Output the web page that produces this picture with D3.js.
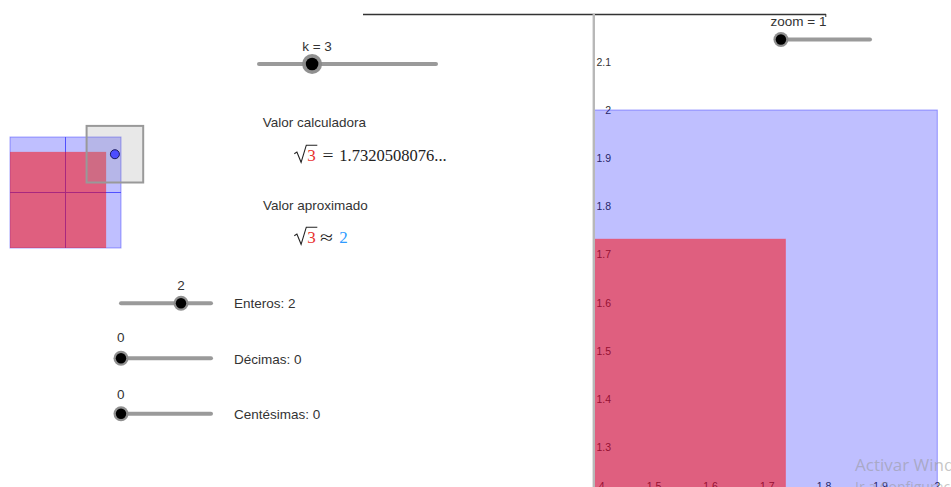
<!DOCTYPE html>
<html>
<head>
<meta charset="utf-8">
<script src="https://cdn.jsdelivr.net/npm/d3@7"></script>
<style>
  html, body { margin: 0; padding: 0; background: #fff; overflow: hidden; }
  svg { display: block; }
  .ui { font-family: "Liberation Sans", Arial, sans-serif; font-size: 13.5px; fill: #333; }
  .math { font-family: "Liberation Serif", "Times New Roman", serif; font-size: 17px; fill: #222; }
  .ax { font-family: "Liberation Sans", Arial, sans-serif; font-size: 10.5px; fill: #333; }
</style>
</head>
<body>
<svg id="chart" width="951" height="487"></svg>
<script>
// ---------------- data ----------------
const xTicks = [1.4, 1.5, 1.6, 1.7, 1.8, 1.9, 2.0];
const yTicks = [1.3, 1.4, 1.5, 1.6, 1.7, 1.8, 1.9, 2.0, 2.1];
const kValue = 3;
const sqrtValue = 1.7320508076;            // calculator value of sqrt(3)
const sqrtText = "1.7320508076...";
const sliderNames  = ["k", "zoom", "Enteros", "Décimas", "Centésimas"];
const sliderValues = [3, 1, 2, 0, 0];
const sliderMins   = [0, 0.5, 0, 0, 0];
const sliderMaxs   = [10, 10, 3, 9, 9];
const approxValue = sliderValues[2] + sliderValues[3] / 10 + sliderValues[4] / 100; // 2
const squareSides = [approxValue, sqrtValue];   // blue square, red square
const squareFills = ["rgba(0,0,255,0.25)", "rgba(255,0,0,0.5)"];
const squareStrokes = ["rgba(0,0,255,0.35)", "rgba(255,40,60,0.35)"];
const pointXY = [1.89, 1.69];
const windowHalf = 0.51;
const watermark = ["Activar Windows", "Ir a Configuración para activar Windows."];

const svg = d3.select("#chart");

// ---------------- separator lines ----------------
svg.append("line").attr("x1", 363).attr("x2", 826).attr("y1", 14.5).attr("y2", 14.5)
  .attr("stroke", "#333").attr("stroke-width", 1.3);
svg.append("line").attr("x1", 825.8).attr("x2", 825.8).attr("y1", 14).attr("y2", 17)
  .attr("stroke", "#333").attr("stroke-width", 1);

// ---------------- main graphics view ----------------
const x = d3.scaleLinear().domain([1.4, 2.0]).range([597.3, 937.3]);
const y = d3.scaleLinear().domain([1.3, 2.1]).range([447.4, 61.8]);

const defs = svg.append("defs");
defs.append("clipPath").attr("id", "viewClip")
  .append("rect").attr("x", 595).attr("y", 15).attr("width", 356).attr("height", 472);

const view = svg.append("g").attr("clip-path", "url(#viewClip)");
const fmt = v => String(+v.toFixed(1));

// axis labels (drawn under the squares, like GeoGebra)
view.append("g").selectAll("text").data(yTicks).join("text")
  .attr("class", "ax").attr("x", 611).attr("y", d => y(d) + 3.8)
  .attr("text-anchor", "end").text(fmt);
view.append("g").selectAll("text").data(xTicks).join("text")
  .attr("class", "ax").attr("x", d => x(d)).attr("y", 490)
  .attr("text-anchor", "middle").text(fmt);

view.append("g").selectAll("rect").data(squareSides).join("rect")
  .attr("x", x(0)).attr("y", d => y(d))
  .attr("width", d => x(d) - x(0)).attr("height", d => y(0) - y(d))
  .attr("fill", (d, i) => squareFills[i])
  .attr("stroke", (d, i) => squareStrokes[i]).attr("stroke-width", 1);

// panel border
svg.append("line").attr("x1", 593.8).attr("x2", 593.8).attr("y1", 14).attr("y2", 487)
  .attr("stroke", "#b8b8b8").attr("stroke-width", 2.4);

// ---------------- small figure (left) ----------------
const lx = d3.scaleLinear().domain([0, 2]).range([10, 121]);
const ly = d3.scaleLinear().domain([0, 2]).range([248, 137]);
const fig = svg.append("g");
fig.append("rect").attr("x", lx(0)).attr("y", ly(squareSides[0]))
  .attr("width", lx(squareSides[0]) - lx(0)).attr("height", ly(0) - ly(squareSides[0]))
  .attr("fill", squareFills[0]).attr("stroke", squareStrokes[0]);
const units = d3.range(1, Math.floor(squareSides[0]));
fig.selectAll("line.v").data(units).join("line").attr("class", "v")
  .attr("x1", d => lx(d)).attr("x2", d => lx(d))
  .attr("y1", ly(0)).attr("y2", ly(squareSides[0]))
  .attr("stroke", "#5050ff").attr("stroke-width", 1);
fig.selectAll("line.h").data(units).join("line").attr("class", "h")
  .attr("y1", d => ly(d)).attr("y2", d => ly(d))
  .attr("x1", lx(0)).attr("x2", lx(squareSides[0]))
  .attr("stroke", "#5050ff").attr("stroke-width", 1);
fig.append("rect").attr("x", lx(0)).attr("y", ly(squareSides[1]))
  .attr("width", lx(squareSides[1]) - lx(0)).attr("height", ly(0) - ly(squareSides[1]))
  .attr("fill", squareFills[1]);
// zoom window
fig.append("rect")
  .attr("x", lx(pointXY[0] - windowHalf)).attr("y", ly(pointXY[1] + windowHalf))
  .attr("width", lx(2 * windowHalf) - lx(0)).attr("height", ly(0) - ly(2 * windowHalf))
  .attr("fill", "rgba(150,150,150,0.22)").attr("stroke", "#999").attr("stroke-width", 2);
fig.append("circle").attr("cx", lx(pointXY[0])).attr("cy", ly(pointXY[1])).attr("r", 4.5)
  .attr("fill", "#4d4dff").attr("stroke", "#1a1a60").attr("stroke-width", 1);

// ---------------- sliders ----------------
const sliderGeom = [
  { x0: 259, x1: 436, y: 64, big: true },
  { x0: 776, x1: 870, y: 39.5, big: false },
  { x0: 121, x1: 211, y: 303.3, big: false },
  { x0: 121, x1: 211, y: 358.3, big: false },
  { x0: 121, x1: 211, y: 413.8, big: false }
];
sliderNames.forEach((name, i) => {
  const g = sliderGeom[i];
  const s = d3.scaleLinear().domain([sliderMins[i], sliderMaxs[i]]).range([g.x0, g.x1]);
  svg.append("line").attr("x1", g.x0).attr("x2", g.x1).attr("y1", g.y).attr("y2", g.y)
    .attr("stroke", "#9a9a9a").attr("stroke-width", 4).attr("stroke-linecap", "round");
  const cx = s(sliderValues[i]);
  svg.append("circle").attr("cx", cx).attr("cy", g.y).attr("r", g.big ? 10 : 7.5)
    .attr("fill", "#8a8a8a").attr("opacity", 0.95);
  svg.append("circle").attr("cx", cx).attr("cy", g.y).attr("r", g.big ? 6.3 : 5.2)
    .attr("fill", "#000");
  g.cx = cx;
});
// slider captions
svg.append("text").attr("class", "ui").attr("x", 317).attr("y", 50.5)
  .attr("text-anchor", "middle").text(`${sliderNames[0]} = ${sliderValues[0]}`);
svg.append("text").attr("class", "ui").attr("x", 798.5).attr("y", 26)
  .attr("text-anchor", "middle").text(`${sliderNames[1]} = ${sliderValues[1]}`);
[2, 3, 4].forEach((i, j) => {
  const g = sliderGeom[i];
  svg.append("text").attr("class", "ui").attr("x", i === 2 ? g.cx : 120.7)
    .attr("y", [290, 341.7, 398.5][j]).attr("text-anchor", "middle").text(sliderValues[i]);
  svg.append("text").attr("class", "ui").attr("x", 234).attr("y", [308.3, 363.5, 419][j])
    .text(`${sliderNames[i]}: ${sliderValues[i]}`);
});

// ---------------- texts and formulas ----------------
svg.append("text").attr("class", "ui").attr("x", 262.7).attr("y", 126.7).text("Valor calculadora");
svg.append("text").attr("class", "ui").attr("x", 263).attr("y", 210).text("Valor aproximado");

function radical(x0, base) {
  const top = base - 15.5;
  svg.append("path")
    .attr("d", `M${x0},${base - 7} L${x0 + 2.6},${base - 8.6} L${x0 + 6.8},${base + 1.6} L${x0 + 12},${top} L${x0 + 23},${top}`)
    .attr("fill", "none").attr("stroke", "#222").attr("stroke-width", 1.1)
    .attr("stroke-linejoin", "miter");
}
// sqrt(3) = 1.7320508076...
radical(294.3, 160.7);
svg.append("text").attr("class", "math").attr("x", 307.3).attr("y", 160.7)
  .style("fill", "#e8332f").text(kValue);
svg.append("text").attr("class", "math").attr("x", 322.5).attr("y", 160.7)
  .attr("textLength", 11).attr("lengthAdjust", "spacingAndGlyphs").text("=");
svg.append("text").attr("class", "math").attr("x", 339.3).attr("y", 160.7)
  .attr("textLength", 107.4).attr("lengthAdjust", "spacingAndGlyphs").text(sqrtText);
// sqrt(3) ≈ 2
radical(294.3, 242.7);
svg.append("text").attr("class", "math").attr("x", 307.3).attr("y", 242.7)
  .style("fill", "#e8332f").text(kValue);
svg.append("text").attr("class", "math").attr("x", 320).attr("y", 242.7)
  .attr("textLength", 13).attr("lengthAdjust", "spacingAndGlyphs").text("≈");
svg.append("text").attr("class", "math").attr("x", 339.3).attr("y", 242.7)
  .style("fill", "#2f9bff").text(approxValue);

// ---------------- OS watermark ----------------
svg.append("text").attr("x", 855).attr("y", 471)
  .style("font-family", "'Open Sans', 'Noto Sans', sans-serif").style("font-size", "17px")
  .style("fill", "rgba(150,150,150,0.55)").text(watermark[0]);
svg.append("text").attr("x", 855).attr("y", 492)
  .style("font-family", "'Open Sans', 'Noto Sans', sans-serif").style("font-size", "14px")
  .style("fill", "rgba(150,150,150,0.55)").text(watermark[1]);
</script>
</body>
</html>
